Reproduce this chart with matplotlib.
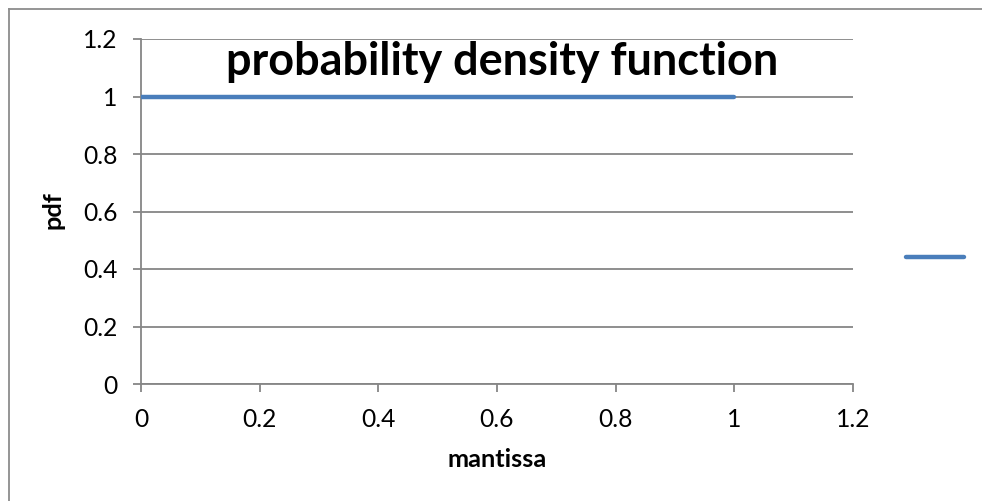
import matplotlib
matplotlib.use("Agg")
import matplotlib.pyplot as plt
from matplotlib.lines import Line2D

plt.rcParams['font.family'] = ['Lato', 'DejaVu Sans']

# uniform density of the mantissa on [0, 1]
mantissa = [0.0, 1.0]
pdf = [1.0, 1.0]

x_ticks = [0, 0.2, 0.4, 0.6, 0.8, 1, 1.2]
x_tick_labels = ["0", "0.2", "0.4", "0.6", "0.8", "1", "1.2"]
y_ticks = [0, 0.2, 0.4, 0.6, 0.8, 1, 1.2]
y_tick_labels = ["0", "0.2", "0.4", "0.6", "0.8", "1", "1.2"]

W, H = 982, 501
fig = plt.figure(figsize=(W / 100, H / 100), dpi=100)
ax = fig.add_axes([141 / W, 1 - 384 / H, (853 - 141) / W, (384 - 39) / H])

grid_c = "#868686"
blue = "#4A7EBB"

line, = ax.plot(mantissa, pdf, color=blue, lw=3.2, solid_capstyle="round", zorder=3)

ax.set_xlim(0, 1.2)
ax.set_ylim(0, 1.2)
ax.set_xticks(x_ticks)
ax.set_xticklabels(x_tick_labels)
ax.set_yticks(y_ticks)
ax.set_yticklabels(y_tick_labels)

for s in ["top", "right"]:
    ax.spines[s].set_visible(False)
for s in ["left", "bottom"]:
    ax.spines[s].set_color(grid_c)
    ax.spines[s].set_linewidth(1.3)

ax.yaxis.grid(True, color=grid_c, lw=1.3)
ax.set_axisbelow(True)
ax.tick_params(axis="both", direction="out", length=6, width=1.3, color=grid_c,
               labelsize=17.7, labelcolor="black")
ax.tick_params(axis="y", pad=11)
ax.tick_params(axis="x", pad=11)

ax.set_xlabel("mantissa", fontsize=18.3, fontweight="bold", va="baseline")
ax.xaxis.set_label_coords(0.5, (384 - 467) / 345)
ax.set_ylabel("pdf", fontsize=18.3, fontweight="bold", va="baseline")
ax.yaxis.set_label_coords((61 - 141) / 712, (384 - 210) / 345)

fig.text(502 / W, 1 - 75 / H, "probability density function",
         ha="center", va="baseline", fontsize=32.4, fontweight="bold")

fig.legend([line], [""], loc="center", bbox_to_anchor=(945 / W, 1 - 258 / H),
           frameon=False, handlelength=2.3, fontsize=18)

# chart border (top and left edges)
fig.add_artist(Line2D([9 / W, 1.0], [1 - 9 / H, 1 - 9 / H], color="#8C8C8C", lw=1.3,
                      transform=fig.transFigure))
fig.add_artist(Line2D([9 / W, 9 / W], [0.0, 1 - 9 / H], color="#8C8C8C", lw=1.3,
                      transform=fig.transFigure))

fig.savefig("out.png", dpi=100)
